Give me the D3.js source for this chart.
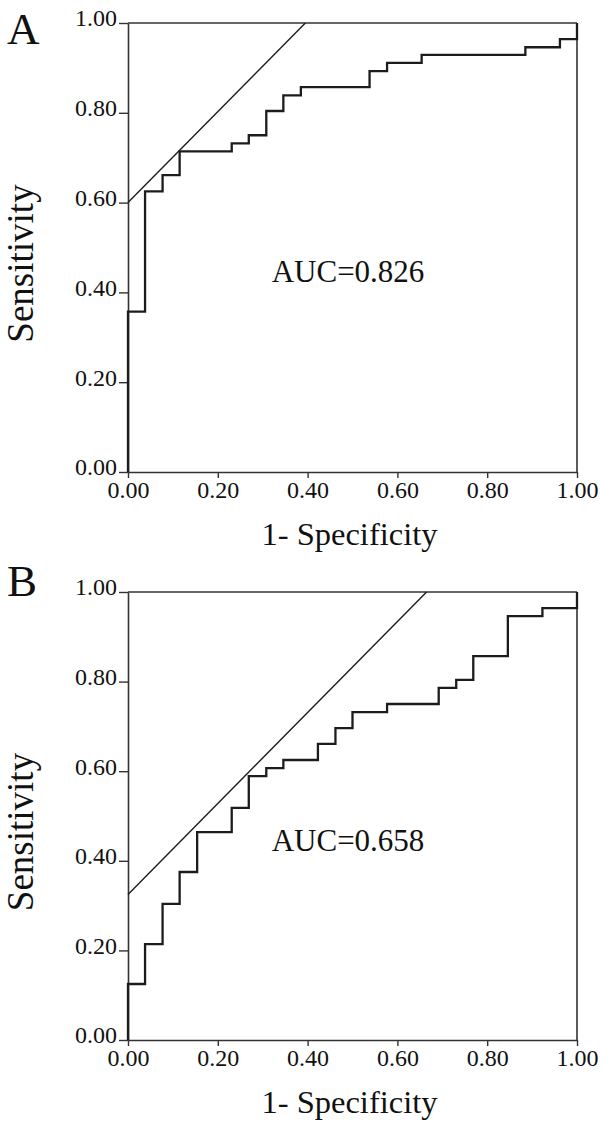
<!DOCTYPE html>
<html><head><meta charset="utf-8">
<script src="https://cdn.jsdelivr.net/npm/d3@7"></script>
<style>
html,body{margin:0;padding:0;background:#fff;}
svg{display:block;}
svg text{font-family:"Liberation Serif","Times New Roman","DejaVu Serif",serif;fill:#111;}
</style></head>
<body>
<svg id="chart" width="602" height="1128"></svg>
<script>
// ----- data -----
const panelLabels = ["A", "B"];
const aucLabels = ["AUC=0.826", "AUC=0.658"];
const tickValues = [0, 0.2, 0.4, 0.6, 0.8, 1.0];
const tickLabels = ["0.00", "0.20", "0.40", "0.60", "0.80", "1.00"];
const xTitle = "1- Specificity";
const yTitle = "Sensitivity";

// Panel A ROC corners (1-specificity, sensitivity)
const fprA = [0, 0, 0.038, 0.077, 0.115, 0.231, 0.269, 0.308, 0.346, 0.385, 0.538, 0.577, 0.654, 0.885, 0.962, 1];
const tprA = [0, 0.357, 0.625, 0.661, 0.714, 0.732, 0.750, 0.804, 0.839, 0.857, 0.893, 0.911, 0.929, 0.946, 0.964, 1];
// Panel B ROC corners
const fprB = [0, 0, 0.038, 0.077, 0.115, 0.154, 0.231, 0.269, 0.308, 0.346, 0.423, 0.462, 0.500, 0.577, 0.692, 0.731, 0.769, 0.846, 0.923, 1];
const tprB = [0, 0.125, 0.214, 0.304, 0.375, 0.464, 0.518, 0.589, 0.607, 0.625, 0.661, 0.696, 0.732, 0.750, 0.786, 0.804, 0.857, 0.946, 0.964, 1];
// reference (tangent) lines
const refA_x = [0, 0.395];
const refA_y = [0.60, 1.0];
const refB_x = [0, 0.665];
const refB_y = [0.325, 1.0];

// ----- layout -----
const svg = d3.select("#chart");
const left = 128, width = 449;
const panels = [
  {top: 23, height: 449, letterY: 21, fpr: fprA, tpr: tprA, rx: refA_x, ry: refA_y, label: panelLabels[0], auc: aucLabels[0]},
  {top: 592, height: 448, letterY: 4, fpr: fprB, tpr: tprB, rx: refB_x, ry: refB_y, label: panelLabels[1], auc: aucLabels[1]}
];
const ink = "#1c1c1c";

panels.forEach(p => {
  const g = svg.append("g").attr("transform", `translate(${left},${p.top})`);
  const x = d3.scaleLinear().domain([0, 1]).range([0, width]);
  const y = d3.scaleLinear().domain([0, 1]).range([p.height, 0]);

  // frame top & right
  g.append("line").attr("x1", x(0)).attr("x2", x(1)).attr("y1", y(1)).attr("y2", y(1))
    .attr("stroke", "#333").attr("stroke-width", 1.6);
  g.append("line").attr("x1", x(1)).attr("x2", x(1)).attr("y1", y(1)).attr("y2", y(0))
    .attr("stroke", "#333").attr("stroke-width", 1.6);

  // axes
  const xa = g.append("g").attr("transform", `translate(0,${p.height})`)
    .call(d3.axisBottom(x).tickValues(tickValues).tickFormat((d, i) => tickLabels[i]).tickSize(6).tickSizeOuter(0).tickPadding(3));
  const ya = g.append("g")
    .call(d3.axisLeft(y).tickValues(tickValues).tickFormat((d, i) => tickLabels[i]).tickSize(9).tickSizeOuter(0).tickPadding(2));
  [xa, ya].forEach(a => {
    a.attr("font-family", null).attr("font-size", null);
    a.select(".domain").attr("stroke", "#333").attr("stroke-width", 1.6);
    a.selectAll(".tick line").attr("stroke", "#333").attr("stroke-width", 1.4);
    a.selectAll(".tick text").attr("fill", "#111").attr("font-size", 24);
  });
  ya.selectAll(".tick text").attr("dy", "0.12em");

  // reference line
  g.append("line")
    .attr("x1", x(p.rx[0])).attr("y1", y(p.ry[0]))
    .attr("x2", x(p.rx[1])).attr("y2", y(p.ry[1]))
    .attr("stroke", ink).attr("stroke-width", 1.4);

  // ROC step curve
  const pts = p.fpr.map((v, i) => [v, p.tpr[i]]);
  g.append("path").datum(pts)
    .attr("d", d3.line().x(d => x(d[0])).y(d => y(d[1])).curve(d3.curveStepAfter))
    .attr("fill", "none").attr("stroke", ink).attr("stroke-width", 2.3);

  // AUC text
  g.append("text").attr("x", 271.7 - left).attr("y", 258.7)
    .attr("font-size", 31).text(p.auc);

  // axis titles
  g.append("text").attr("x", width / 2 - 3).attr("y", p.height + 73)
    .attr("text-anchor", "middle").attr("font-size", 32.5).text(xTitle);
  g.append("text").attr("transform", `translate(${33 - left},${p.height / 2 + 16}) rotate(-90)`)
    .attr("text-anchor", "middle").attr("font-size", 37).text(yTitle);

  // panel letter
  g.append("text").attr("x", 7 - left).attr("y", p.letterY)
    .attr("font-size", 45).text(p.label);
});
</script>
</body></html>
